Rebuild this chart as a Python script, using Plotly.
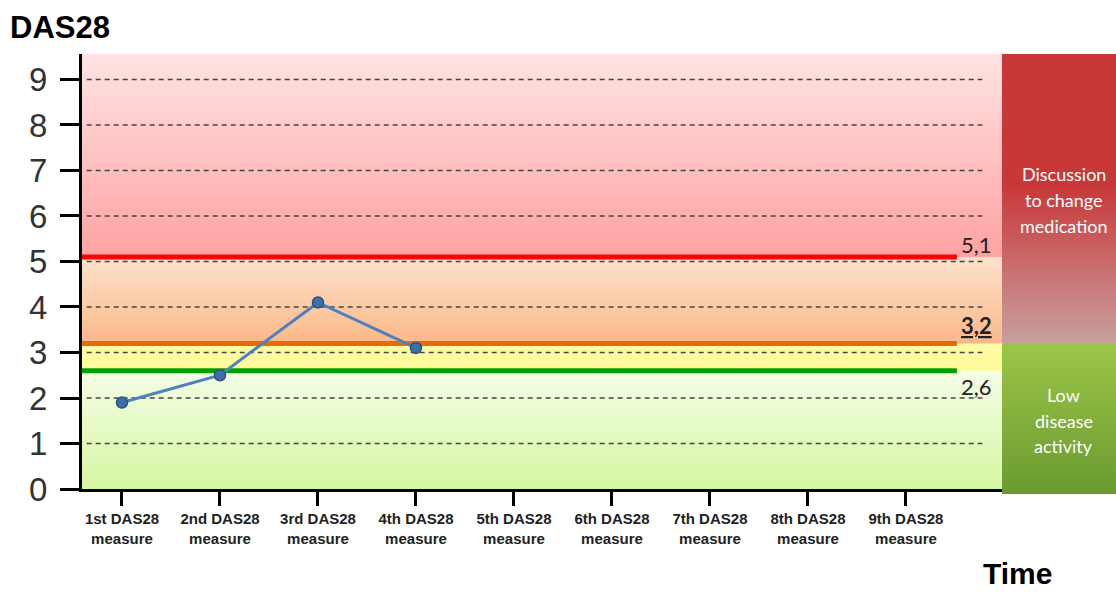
import plotly.graph_objects as go

# --- data -------------------------------------------------------------
measures = ["1st DAS28<br>measure", "2nd DAS28<br>measure", "3rd DAS28<br>measure",
            "4th DAS28<br>measure", "5th DAS28<br>measure", "6th DAS28<br>measure",
            "7th DAS28<br>measure", "8th DAS28<br>measure", "9th DAS28<br>measure"]
das28_scores = [1.9, 2.5, 4.1, 3.1]
y_ticks = [0, 1, 2, 3, 4, 5, 6, 7, 8, 9]

thresholds = [5.1, 3.2, 2.6]
threshold_labels = ["5,1", "<b><u>3,2</u></b>", "2,6"]
threshold_colors = ["#ff0000", "#e46c0a", "#00a000"]

# activity zones: (low, high, bottom colour, top colour)
Y_MAX = 9.56
zones = [
    (0.0, 2.6, "#d6f7a2", "#f4fde6"),
    (2.6, 3.2, "#fdfb98", "#fefca6"),
    (3.2, 5.1, "#fbb888", "#fde2cc"),
    (5.1, Y_MAX, "#ffa2a2", "#ffe3e3"),
]

X_MIN, X_MAX = -0.408, 8.98

fig = go.Figure()

# background zones with vertical gradients
for lo, hi, c_bot, c_top in zones:
    fig.add_trace(go.Scatter(
        x=[X_MIN, X_MAX, X_MAX, X_MIN, X_MIN], y=[lo, lo, hi, hi, lo],
        mode="lines", line=dict(width=0), fill="toself",
        fillgradient=dict(type="vertical", start=lo, stop=hi,
                          colorscale=[[0, c_bot], [1, c_top]]),
        hoverinfo="skip", showlegend=False))

# dashed gridlines
gx, gy = [], []
for t in y_ticks[1:]:
    gx += [-0.36, 8.78, None]
    gy += [t, t, None]
fig.add_trace(go.Scatter(x=gx, y=gy, mode="lines",
                         line=dict(color="#444444", width=1.4, dash="5px,4px"),
                         hoverinfo="skip", showlegend=False))

# threshold lines
for t, c in zip(thresholds, threshold_colors):
    fig.add_trace(go.Scatter(x=[X_MIN, 8.52], y=[t, t], mode="lines",
                             line=dict(color=c, width=5),
                             hoverinfo="skip", showlegend=False))

# patient measurements
fig.add_trace(go.Scatter(
    x=list(range(len(das28_scores))), y=das28_scores, mode="lines+markers",
    line=dict(color="#4f81bd", width=3),
    marker=dict(size=11, color="#3f6fa8", line=dict(color="#2c5282", width=1.5)),
    showlegend=False))

# side panel: recommendation blocks
SPLIT = (494 - 344) / 440
panel = [
    (0.0, SPLIT, "#6a9a30", "#9cc64a"),
    (SPLIT, 1.0, "#c8a0a0", "#c83838"),
]
for i, (lo, hi, c_bot, c_top) in enumerate(panel):
    cs = [[0, c_bot], [1, c_top]] if i == 0 else [[0, c_bot], [0.55, c_top], [1, c_top]]
    fig.add_trace(go.Scatter(
        x=[0, 1, 1, 0, 0], y=[lo, lo, hi, hi, lo], xaxis="x2", yaxis="y2",
        mode="lines", line=dict(width=0), fill="toself",
        fillgradient=dict(type="vertical", start=lo, stop=hi, colorscale=cs),
        hoverinfo="skip", showlegend=False))

panel_text = [
    (["Discussion", "to change", "medication"], [174, 200, 226]),
    (["Low", "disease", "activity"], [395, 421, 446]),
]
annotations = []
for lines, ys in panel_text:
    for txt, py in zip(lines, ys):
        annotations.append(dict(
            text=txt, xref="x2", yref="y2", x=0.54, y=(494 - py) / 440,
            showarrow=False, xanchor="center", yanchor="middle",
            font=dict(family="Lato", size=18, color="white")))

# threshold value labels
label_offsets = [("bottom", -3), ("bottom", 2), ("top", 0)]
for t, lab, (anchor, yshift) in zip(thresholds, threshold_labels, label_offsets):
    annotations.append(dict(
        text=lab, x=8.54, y=t, xref="x", yref="y", showarrow=False,
        xanchor="left", yanchor=anchor, yshift=yshift,
        font=dict(family="Lato", size=22, color="#222222")))

# axis titles
annotations.append(dict(text="<b>DAS28</b>", xref="paper", yref="paper",
                        x=-0.072, y=1.105, xanchor="left", yanchor="top",
                        showarrow=False,
                        font=dict(family="Liberation Sans", size=31, color="black")))
annotations.append(dict(text="<b>Time</b>", xref="paper", yref="paper",
                        x=0.869, y=(494 - 592) / 440, xanchor="left", yanchor="bottom",
                        showarrow=False,
                        font=dict(family="Liberation Sans", size=30, color="black")))

fig.update_layout(
    width=1116, height=592,
    margin=dict(l=82, r=0, t=54, b=98),
    plot_bgcolor="white", paper_bgcolor="white",
    xaxis=dict(domain=[0, 920 / 1034], range=[X_MIN, X_MAX],
               tickvals=list(range(len(measures))), ticktext=measures,
               showgrid=False, zeroline=False,
               showline=True, linecolor="black", linewidth=3,
               ticks="outside", ticklen=14, tickwidth=3, tickcolor="black",
               tickfont=dict(family="Liberation Sans", size=15, color="#222222",
                             weight="bold")),
    yaxis=dict(domain=[5 / 440, 1], range=[0, Y_MAX], tickvals=y_ticks,
               showgrid=False, zeroline=False,
               showline=True, linecolor="black", linewidth=3,
               ticks="outside", ticklen=19, tickwidth=3, tickcolor="black",
               ticklabelstandoff=6,
               tickfont=dict(family="Liberation Sans", size=33, color="#333333")),
    xaxis2=dict(domain=[920 / 1034, 1], range=[0, 1], visible=False),
    yaxis2=dict(domain=[0, 1], range=[0, 1], visible=False, anchor="x2"),
    annotations=annotations,
)

fig.write_html("out.html")
